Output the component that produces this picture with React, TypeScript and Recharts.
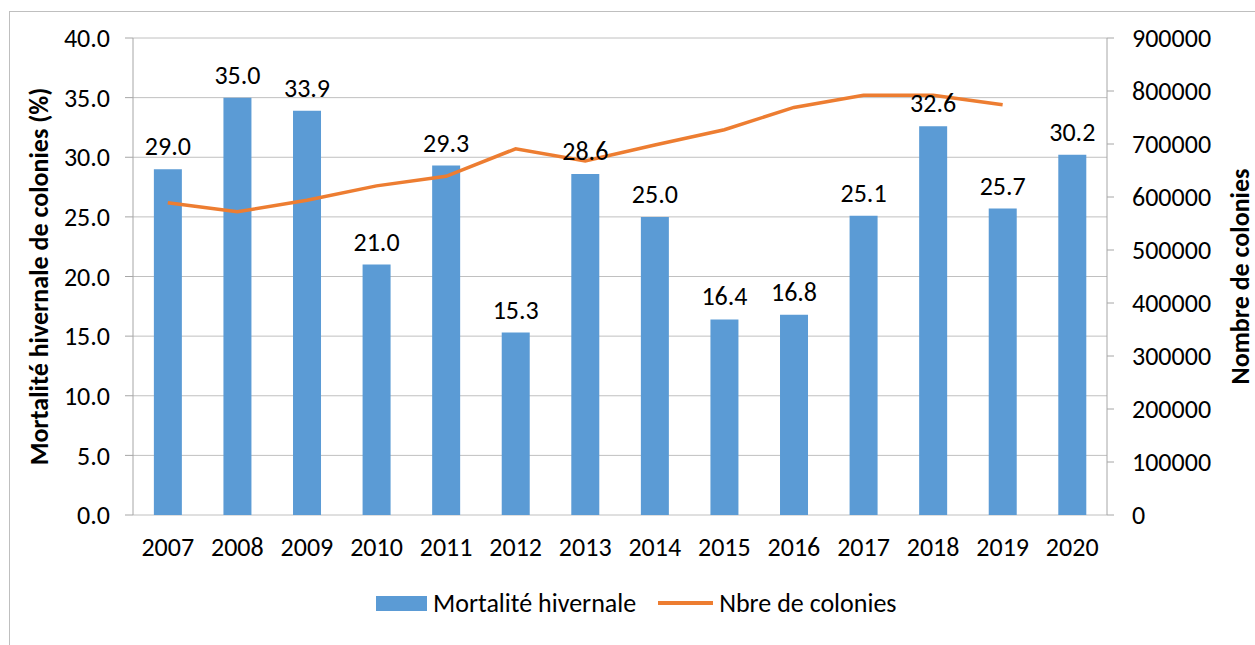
import {
  ComposedChart, Bar, Line, XAxis, YAxis, CartesianGrid, LabelList,
} from 'recharts'

// ─── Data ─────────────────────────────────────────────────────────────────────

const years = ['2007', '2008', '2009', '2010', '2011', '2012', '2013', '2014', '2015', '2016', '2017', '2018', '2019', '2020']
const mortality = [29.0, 35.0, 33.9, 21.0, 29.3, 15.3, 28.6, 25.0, 16.4, 16.8, 25.1, 32.6, 25.7, 30.2]
const colonies: (number | null)[] = [589000, 572000, 594000, 621000, 639000, 691000, 668000, 698000, 727000, 769000, 792000, 792000, 774000, null]

const leftTicks = [0, 5, 10, 15, 20, 25, 30, 35, 40]
const rightTicks = [0, 100000, 200000, 300000, 400000, 500000, 600000, 700000, 800000, 900000]
const edgeTicks = years.map((_, i) => i).concat(years.length)

const BLUE = '#5B9BD5'
const ORANGE = '#ED7D31'
const FONT = "Carlito, Lato, sans-serif"
const FS = 26

const data = years.map((y, i) => ({ year: y, idx: i + 0.5, mortality: mortality[i], colonies: colonies[i] }))

// ─── Component ────────────────────────────────────────────────────────────────

export default function App() {
  const tickStyle = { fontSize: FS, fill: '#000', fontFamily: FONT }
  const titleStyle = { fontSize: FS, fontWeight: 700, fill: '#000', fontFamily: FONT }
  return (
    <div style={{ position: 'absolute', left: 0, top: 0, width: 1255, height: 645, background: '#fff', fontFamily: FONT }}>
      <div style={{ position: 'absolute', left: 9, top: 11, right: 0, bottom: 0, borderLeft: '1px solid #bfbfbf', borderTop: '1px solid #bfbfbf' }} />
      <ComposedChart
        width={1255}
        height={645}
        data={data}
        margin={{ top: 38, right: 0, bottom: 80, left: 0 }}
        barCategoryGap="30%"
        style={{ position: 'absolute', left: 0, top: 0 }}
      >
        <CartesianGrid vertical={false} stroke="#c0c0c0" yAxisId="left" />
        <XAxis
          xAxisId="edges"
          type="number"
          dataKey="idx"
          domain={[0, years.length]}
          ticks={edgeTicks}
          tick={false}
          tickSize={7}
          tickLine={{ stroke: '#a6a6a6' }}
          axisLine={{ stroke: '#a6a6a6' }}
          height={0}
        />
        <XAxis
          dataKey="year"
          tick={tickStyle}
          tickLine={false}
          axisLine={false}
          tickMargin={17}
          height={50}
          interval={0}
        />
        <YAxis
          yAxisId="left"
          domain={[0, 40]}
          ticks={leftTicks}
          tickFormatter={(v: number) => v.toFixed(1)}
          tick={tickStyle}
          tickLine={{ stroke: '#a6a6a6' }}
          axisLine={{ stroke: '#a6a6a6' }}
          tickSize={8}
          tickMargin={15}
          width={133}
          label={{ value: 'Mortalité hivernale de colonies (%)', angle: -90, position: 'insideLeft', offset: 39, textAnchor: 'middle', style: titleStyle }}
        />
        <YAxis
          yAxisId="right"
          orientation="right"
          domain={[0, 900000]}
          ticks={rightTicks}
          tick={tickStyle}
          tickLine={{ stroke: '#a6a6a6' }}
          axisLine={{ stroke: '#a6a6a6' }}
          tickSize={7}
          tickMargin={18}
          width={148}
          label={{ value: 'Nombre de colonies', angle: -90, position: 'insideRight', offset: 15, textAnchor: 'middle', style: titleStyle }}
        />
        <Bar yAxisId="left" dataKey="mortality" fill={BLUE} isAnimationActive={false}>
          <LabelList
            dataKey="mortality"
            position="top"
            offset={14}
            formatter={(v: number) => v.toFixed(1)}
            style={{ fontSize: FS, fill: '#000', fontFamily: FONT }}
          />
        </Bar>
        <Line
          yAxisId="right"
          dataKey="colonies"
          stroke={ORANGE}
          strokeWidth={3.5}
          dot={false}
          type="linear"
          isAnimationActive={false}
        />
      </ComposedChart>
      {/* legend drawn as HTML so it does not shrink the plot area */}
      <div style={{ position: 'absolute', left: 376, top: 587, display: 'flex', alignItems: 'center', fontSize: FS, color: '#000', whiteSpace: 'nowrap' }}>
        <span style={{ display: 'inline-block', width: 51, height: 15, background: BLUE, marginRight: 6 }} />
        <span style={{ marginRight: 22 }}>Mortalité hivernale</span>
        <span style={{ display: 'inline-block', width: 55, height: 3.5, background: ORANGE, marginRight: 6 }} />
        <span>Nbre de colonies</span>
      </div>
    </div>
  )
}
